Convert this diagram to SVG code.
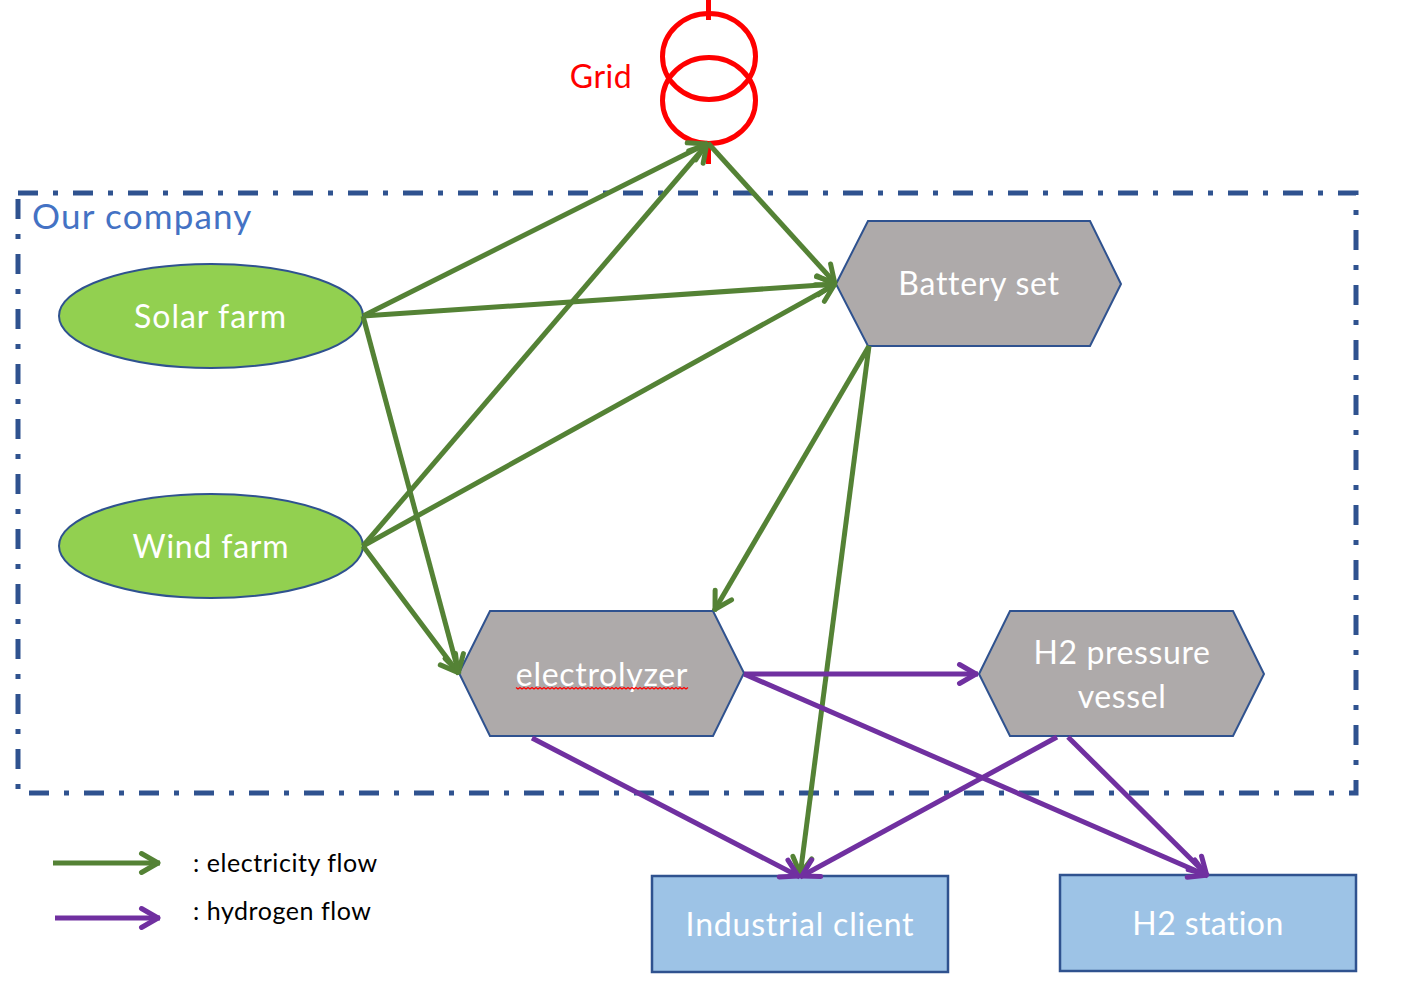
<svg xmlns="http://www.w3.org/2000/svg" width="1411" height="990" viewBox="0 0 1411 990">
<style>
text{font-family:"Lato","Open Sans","Liberation Sans",sans-serif;text-anchor:middle}
.l{fill:#fff;font-size:32px;letter-spacing:.8px}
.n{stroke:#2f528f;stroke-width:2}
.hex{fill:#aeaaaa}.oval{fill:#92d050}.box{fill:#9dc3e6;stroke-width:2.500px}
.g{stroke:#548235;stroke-width:5;fill:none;marker-end:url(#ag)}
.p{stroke:#7030a0;stroke-width:5;fill:none;marker-end:url(#ap)}
.r{fill:none;stroke:#f00;stroke-width:5}
.leg{fill:#000;font-size:25px;text-anchor:start;letter-spacing:.55px}
</style>
<defs>
<marker id="ag" markerUnits="userSpaceOnUse" markerWidth="30" markerHeight="30" refX="26.500" refY="15" orient="auto" overflow="visible"><path d="M8 5.500L24.500 15L8 24.500" fill="none" stroke="#548235" stroke-width="5" stroke-linecap="round" stroke-linejoin="round"/></marker>
<marker id="ap" markerUnits="userSpaceOnUse" markerWidth="30" markerHeight="30" refX="26.500" refY="15" orient="auto" overflow="visible"><path d="M8 5.500L24.500 15L8 24.500" fill="none" stroke="#7030a0" stroke-width="5" stroke-linecap="round" stroke-linejoin="round"/></marker>
</defs>
<g id="company"><path d="M18 193H1356V793H18Z" fill="none" stroke="#2f528f" stroke-width="5" stroke-dasharray="20 15 5 15"/>
<text x="32" y="229" style="text-anchor:start;font-size:35px;fill:#4472c4;letter-spacing:1.200px">Our company</text></g>
<g id="grid"><ellipse class="r" cx="709" cy="56.500" rx="46.500" ry="43"/><ellipse class="r" cx="709" cy="100.500" rx="46.500" ry="43"/><path class="r" d="M708.500 0V20M708.500 143V164"/>
<text x="601" y="88" style="font-size:32px;fill:#f00;letter-spacing:.5px">Grid</text></g>
<g id="solar"><ellipse class="n oval" cx="211" cy="316" rx="152" ry="52"/><text class="l" x="210.500" y="328" style="letter-spacing:1px">Solar farm</text></g>
<g id="wind"><ellipse class="n oval" cx="211" cy="546" rx="152" ry="52"/><text class="l" x="211" y="558">Wind farm</text></g>
<g id="battery"><path class="n hex" d="M836 284L868 221H1090L1121 284L1090 346H868Z"/><text class="l" x="979" y="295" style="letter-spacing:.7px">Battery set</text></g>
<g id="electrolyzer"><path class="n hex" d="M459 673L490 611H713L744 673L713 736H490Z"/><text class="l" x="602" y="686" style="letter-spacing:.7px">electrolyzer</text>
<path d="M516 687.500l2 1.500l2-1.500l2 1.500l2-1.500l2 1.500l2-1.500l2 1.500l2-1.500l2 1.500l2-1.500l2 1.500l2-1.500l2 1.500l2-1.500l2 1.500l2-1.500l2 1.500l2-1.500l2 1.500l2-1.500l2 1.500l2-1.500l2 1.500l2-1.500l2 1.500l2-1.500l2 1.500l2-1.500l2 1.500l2-1.500l2 1.500l2-1.500l2 1.500l2-1.500l2 1.500l2-1.500l2 1.500l2-1.500l2 1.500l2-1.500l2 1.500l2-1.500l2 1.500l2-1.500l2 1.500l2-1.500l2 1.500l2-1.500l2 1.500l2-1.500l2 1.500l2-1.500l2 1.500l2-1.500l2 1.500l2-1.500l2 1.500l2-1.500l2 1.500l2-1.500l2 1.500l2-1.500l2 1.500l2-1.500l2 1.500l2-1.500l2 1.500l2-1.500l2 1.500l2-1.500l2 1.500l2-1.500l2 1.500l2-1.500l2 1.500l2-1.500l2 1.500l2-1.500l2 1.500l2-1.500l2 1.500l2-1.500l2 1.500l2-1.500l2 1.500l2-1.500" fill="none" stroke="#f00" stroke-width="1.300"/></g>
<g id="vessel"><path class="n hex" d="M979 674L1010 611H1233L1264 674L1233 736H1010Z"/><text class="l" x="1122" y="664" style="letter-spacing:.6px">H2 pressure</text><text class="l" x="1122" y="708" style="letter-spacing:.6px">vessel</text></g>
<g id="client"><rect class="n box" x="652" y="876" width="296" height="96"/><text class="l" x="800" y="936">Industrial client</text></g>
<g id="station"><rect class="n box" x="1060" y="875" width="296" height="96"/><text class="l" x="1208" y="935" style="letter-spacing:.4px">H2 station</text></g>
<g id="connectors">
<path class="g" d="M363 316L708 143"/><path class="g" d="M363 546L708 143"/><path class="g" d="M708 143L836 284"/>
<path class="g" d="M363 316L836 284"/><path class="g" d="M363 546L836 284"/><path class="g" d="M363 316L459 674"/><path class="g" d="M363 546L459 674"/>
<path class="g" d="M869 346L714 611"/><path class="g" d="M869 346L800 876"/>
<path class="p" d="M744 674H978"/><path class="p" d="M744 674L1208 876"/><path class="p" d="M532 738L800 877"/><path class="p" d="M1057 737L800 877"/><path class="p" d="M1068 737L1208 876"/>
</g>
<g id="legend">
<path class="g" d="M53 863H160"/><path class="p" d="M55 918H160"/>
<text class="leg" x="193" y="872">: electricity flow</text><text class="leg" x="193" y="920">: hydrogen flow</text>
</g>
</svg>
